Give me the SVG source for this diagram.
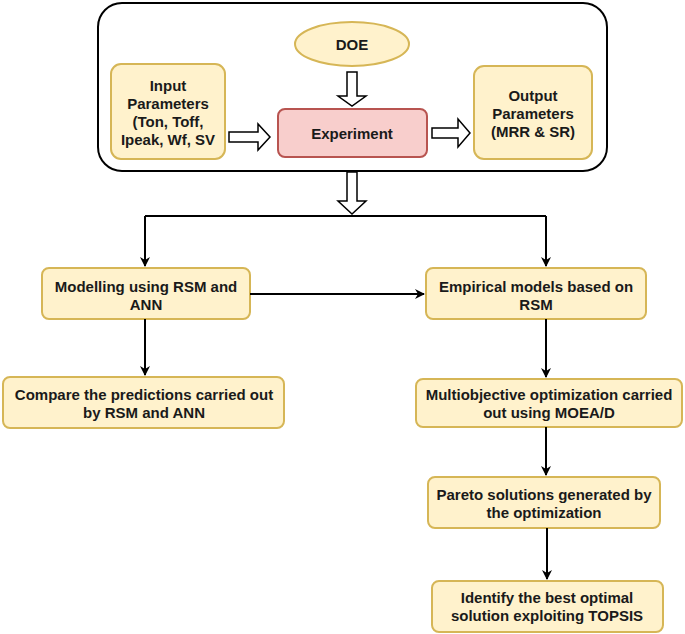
<svg xmlns="http://www.w3.org/2000/svg" width="685" height="634" viewBox="0 0 685 634">
<style>
.y{fill:#fff2cc;stroke:#d6b656;stroke-width:2}
.r{fill:#f8cecc;stroke:#b85450;stroke-width:2}
.t{font-family:"Liberation Sans",Arial,sans-serif;font-weight:bold;font-size:15px;fill:#1a1a1a;text-anchor:middle;dominant-baseline:central}
.ho{fill:#fff;stroke:#000;stroke-width:1.5;stroke-linejoin:miter}
.ln{fill:none;stroke:#000;stroke-width:2}
</style>
<defs>
<marker id="ah" viewBox="0 0 10 10" refX="9" refY="5" markerWidth="10" markerHeight="10" markerUnits="userSpaceOnUse" orient="auto">
<path d="M0,0 L10,5 L0,10 L3,5 Z" fill="#000"/>
</marker>
</defs>
<rect id="container" x="98" y="3" width="509" height="168" rx="24" fill="#fff" stroke="#000" stroke-width="2"/>
<g id="doe"><ellipse class="y" cx="352" cy="44" rx="57" ry="22"/><text class="t" x="352" y="44">DOE</text></g>
<g id="input"><rect class="y" x="111" y="64" width="114" height="95" rx="10"/>
<text class="t" x="168" y="85">Input</text><text class="t" x="168" y="103">Parameters</text><text class="t" x="168" y="121">(Ton, Toff,</text><text class="t" x="168" y="139">Ipeak, Wf, SV</text></g>
<g id="experiment"><rect class="r" x="278" y="109" width="149" height="48" rx="7"/><text class="t" x="352" y="133">Experiment</text></g>
<g id="output"><rect class="y" x="474" y="66" width="118" height="93" rx="10"/>
<text class="t" x="533" y="95">Output</text><text class="t" x="533" y="113">Parameters</text><text class="t" x="533" y="131">(MRR &amp; SR)</text></g>
<g id="modelling"><rect class="y" x="42" y="268" width="208" height="51" rx="7"/><text class="t" x="146" y="286">Modelling using RSM and</text><text class="t" x="146" y="304">ANN</text></g>
<g id="empirical"><rect class="y" x="426" y="268" width="220" height="51" rx="7"/><text class="t" x="536" y="286">Empirical models based on</text><text class="t" x="536" y="304">RSM</text></g>
<g id="compare"><rect class="y" x="3" y="377" width="281" height="51" rx="7"/><text class="t" x="144" y="394">Compare the predictions carried out</text><text class="t" x="144" y="412">by RSM and ANN</text></g>
<g id="multi"><rect class="y" x="416" y="379" width="266" height="48" rx="7"/><text class="t" x="549" y="394">Multiobjective optimization carried</text><text class="t" x="549" y="412">out using MOEA/D</text></g>
<g id="pareto"><rect class="y" x="428" y="477" width="232" height="51" rx="7"/><text class="t" x="544" y="494">Pareto solutions generated by</text><text class="t" x="544" y="512">the optimization</text></g>
<g id="identify"><rect class="y" x="432" y="581" width="231" height="51" rx="7"/><text class="t" x="547" y="597">Identify the best optimal</text><text class="t" x="547" y="615">solution exploiting TOPSIS</text></g>
<g id="connectors">
<polygon class="ho" points="347,72 357,72 357,96 366,96 352,106 338,96 347,96"/>
<polygon class="ho" points="229,132 258,132 258,124 270,137 258,150 258,142 229,142"/>
<polygon class="ho" points="432,128 458,128 458,119 470,133 458,147 458,138 432,138"/>
<polygon class="ho" points="347,172 357,172 357,201 366,201 352,214 338,201 347,201"/>
<path class="ln" d="M145,216 L546,216"/>
<path class="ln" d="M145,216 L145,266" marker-end="url(#ah)"/>
<path class="ln" d="M546,216 L546,266" marker-end="url(#ah)"/>
<path class="ln" d="M250,294 L424,294" marker-end="url(#ah)"/>
<path class="ln" d="M145,319 L145,375" marker-end="url(#ah)"/>
<path class="ln" d="M546,319 L546,377" marker-end="url(#ah)"/>
<path class="ln" d="M546,427 L546,475" marker-end="url(#ah)"/>
<path class="ln" d="M547,528 L547,579" marker-end="url(#ah)"/>
</g>
</svg>
